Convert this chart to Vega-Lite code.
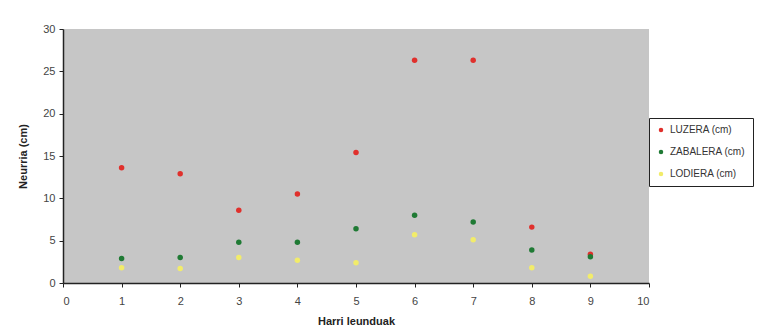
{
  "$schema": "https://vega.github.io/schema/vega-lite/v6.json",
  "autosize": {"type": "none"},
  "padding": {"left": 63, "top": 29, "right": 113, "bottom": 47},
  "width": 586,
  "height": 254,
  "background": "white",
  "config": {
    "view": {"stroke": null, "fill": "#c6c6c6"},
    "font": "Liberation Sans"
  },
  "data": {
    "values": [
      {"harria": 1, "serie": "LUZERA (cm)", "neurria": 13.6},
      {"harria": 2, "serie": "LUZERA (cm)", "neurria": 12.9},
      {"harria": 3, "serie": "LUZERA (cm)", "neurria": 8.6},
      {"harria": 4, "serie": "LUZERA (cm)", "neurria": 10.5},
      {"harria": 5, "serie": "LUZERA (cm)", "neurria": 15.4},
      {"harria": 6, "serie": "LUZERA (cm)", "neurria": 26.3},
      {"harria": 7, "serie": "LUZERA (cm)", "neurria": 26.3},
      {"harria": 8, "serie": "LUZERA (cm)", "neurria": 6.6},
      {"harria": 9, "serie": "LUZERA (cm)", "neurria": 3.4},
      {"harria": 1, "serie": "ZABALERA (cm)", "neurria": 2.9},
      {"harria": 2, "serie": "ZABALERA (cm)", "neurria": 3.0},
      {"harria": 3, "serie": "ZABALERA (cm)", "neurria": 4.8},
      {"harria": 4, "serie": "ZABALERA (cm)", "neurria": 4.8},
      {"harria": 5, "serie": "ZABALERA (cm)", "neurria": 6.4},
      {"harria": 6, "serie": "ZABALERA (cm)", "neurria": 8.0},
      {"harria": 7, "serie": "ZABALERA (cm)", "neurria": 7.2},
      {"harria": 8, "serie": "ZABALERA (cm)", "neurria": 3.9},
      {"harria": 9, "serie": "ZABALERA (cm)", "neurria": 3.1},
      {"harria": 1, "serie": "LODIERA (cm)", "neurria": 1.8},
      {"harria": 2, "serie": "LODIERA (cm)", "neurria": 1.7},
      {"harria": 3, "serie": "LODIERA (cm)", "neurria": 3.0},
      {"harria": 4, "serie": "LODIERA (cm)", "neurria": 2.7},
      {"harria": 5, "serie": "LODIERA (cm)", "neurria": 2.4},
      {"harria": 6, "serie": "LODIERA (cm)", "neurria": 5.7},
      {"harria": 7, "serie": "LODIERA (cm)", "neurria": 5.1},
      {"harria": 8, "serie": "LODIERA (cm)", "neurria": 1.8},
      {"harria": 9, "serie": "LODIERA (cm)", "neurria": 0.8}
    ]
  },
  "mark": {"type": "circle", "size": 30, "opacity": 1},
  "encoding": {
    "x": {
      "field": "harria",
      "type": "quantitative",
      "scale": {"domain": [0, 10], "nice": false},
      "axis": {
        "title": "Harri leunduak",
        "titleFontSize": 11,
        "titleFontWeight": "bold",
        "titleColor": "#222",
        "titlePadding": 9,
        "values": [0, 1, 2, 3, 4, 5, 6, 7, 8, 9, 10],
        "grid": false,
        "domainColor": "#222",
        "domainWidth": 1.5,
        "tickColor": "#222",
        "tickSize": 4,
        "labelFontSize": 11,
        "labelColor": "#444",
        "labelPadding": 8
      }
    },
    "y": {
      "field": "neurria",
      "type": "quantitative",
      "scale": {"domain": [0, 30], "nice": false},
      "axis": {
        "title": "Neurria (cm)",
        "titleFontSize": 11,
        "titleFontWeight": "bold",
        "titleColor": "#222",
        "titlePadding": 14,
        "values": [0, 5, 10, 15, 20, 25, 30],
        "grid": false,
        "domainColor": "#222",
        "domainWidth": 1.5,
        "tickColor": "#222",
        "tickSize": 4,
        "labelFontSize": 11,
        "labelColor": "#444",
        "labelPadding": 4
      }
    },
    "color": {
      "field": "serie",
      "type": "nominal",
      "scale": {
        "domain": ["LUZERA (cm)", "ZABALERA (cm)", "LODIERA (cm)"],
        "range": ["#e0302c", "#1f7a34", "#f2ec6a"]
      },
      "legend": {
        "title": null,
        "orient": "none",
        "legendX": 586,
        "legendY": 89,
        "fillColor": "white",
        "strokeColor": "#222",
        "padding": 7,
        "labelFontSize": 10,
        "labelColor": "#333",
        "symbolSize": 20,
        "symbolType": "circle",
        "rowPadding": 12,
        "labelOffset": 4
      }
    }
  }
}
